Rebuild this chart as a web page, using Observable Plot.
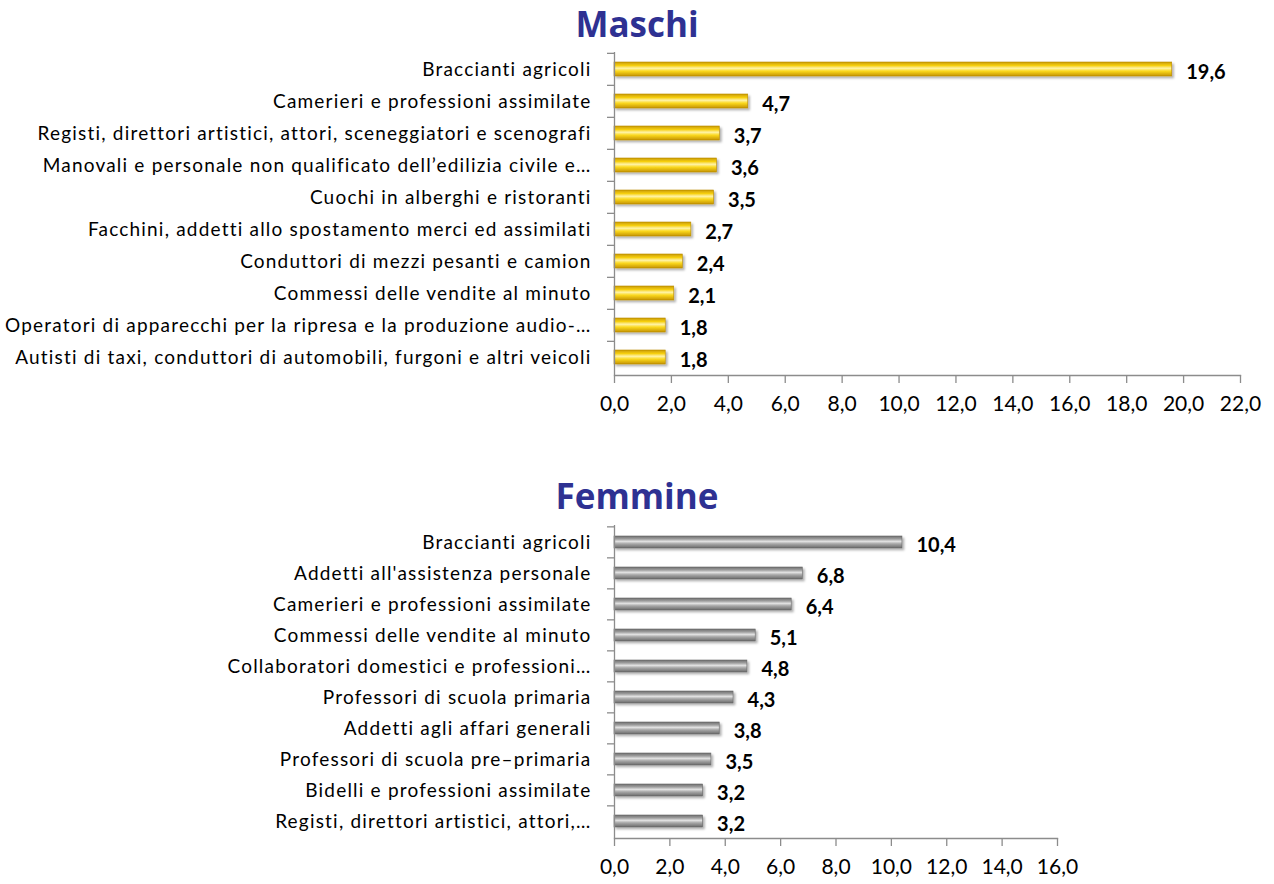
<!DOCTYPE html>
<html>
<head>
<meta charset="utf-8">
<script src="https://cdn.jsdelivr.net/npm/d3@7"></script>
<script src="https://cdn.jsdelivr.net/npm/@observablehq/plot@0.6"></script>
<style>
  body { margin: 0; background: #fff; }
  #wrap { position: relative; width: 1274px; height: 884px; overflow: hidden; font-family: Lato, sans-serif; }
  .ttl { position: absolute; left: 0; width: 1274px; text-align: center; font-family: "Open Sans", sans-serif; font-weight: 700; font-size: 35px; color: #2e3192; line-height: 1; }
  .chart { position: absolute; left: 0; }
</style>
</head>
<body>
<div id="wrap">
  <div class="ttl" id="t1" style="top:6px;">Maschi</div>
  <div class="chart" id="c1" style="top:45px;"></div>
  <div class="ttl" id="t2" style="top:478px;">Femmine</div>
  <div class="chart" id="c2" style="top:515px;"></div>
</div>
<script>
const maschiNames = [
  "Braccianti agricoli",
  "Camerieri e professioni assimilate",
  "Registi, direttori artistici, attori, sceneggiatori e scenografi",
  "Manovali e personale non qualificato dell’edilizia civile e…",
  "Cuochi in alberghi e ristoranti",
  "Facchini, addetti allo spostamento merci ed assimilati",
  "Conduttori di mezzi pesanti e camion",
  "Commessi delle vendite al minuto",
  "Operatori di apparecchi per la ripresa e la produzione audio-…",
  "Autisti di taxi, conduttori di automobili, furgoni e altri veicoli"
];
const maschiValues = [19.6, 4.7, 3.7, 3.6, 3.5, 2.7, 2.4, 2.1, 1.8, 1.8];

const femmineNames = [
  "Braccianti agricoli",
  "Addetti all'assistenza personale",
  "Camerieri e professioni assimilate",
  "Commessi delle vendite al minuto",
  "Collaboratori domestici e professioni…",
  "Professori di scuola primaria",
  "Addetti agli affari generali",
  "Professori di scuola pre–primaria",
  "Bidelli e professioni assimilate",
  "Registi, direttori artistici, attori,…"
];
const femmineValues = [10.4, 6.8, 6.4, 5.1, 4.8, 4.3, 3.8, 3.5, 3.2, 3.2];

const maschiTicks = d3.range(0, 22.01, 2);
const femmineTicks = d3.range(0, 16.01, 2);

const fmt = v => v.toFixed(1).replace(".", ",");

function defsMark(id, stops) {
  return () => {
    const defs = d3.create("svg:defs");
    const g = defs.append("linearGradient").attr("id", id)
      .attr("x1", 0).attr("y1", 0).attr("x2", 0).attr("y2", 1);
    stops.forEach(([o, c]) => g.append("stop").attr("offset", o).attr("stop-color", c));
    const f = defs.append("filter").attr("id", id + "sh")
      .attr("x", "-5%").attr("y", "-50%").attr("width", "115%").attr("height", "220%");
    f.append("feDropShadow").attr("dx", 2).attr("dy", 2).attr("stdDeviation", 1.2)
      .attr("flood-color", "#000").attr("flood-opacity", 0.3);
    return defs.node();
  };
}

function makeChart({names, values, ticks, height, marginTop, marginBottom, marginRight, padIn, gradId, stops, stroke}) {
  const data = names.map((n, i) => ({name: n, value: values[i]}));
  const plotH = height - marginTop - marginBottom;
  const step = plotH / names.length;
  const svg = Plot.plot({
    width: 1274,
    height,
    marginLeft: 614,
    marginRight,
    marginTop,
    marginBottom,
    style: {fontFamily: "Lato, sans-serif", color: "#000", background: "#fff"},
    x: {domain: [ticks[0], ticks[ticks.length - 1]], ticks, tickFormat: fmt},
    y: {domain: names, paddingInner: padIn, paddingOuter: padIn / 2},
    marks: [
      defsMark(gradId, stops),
      Plot.barX(data, {y: "name", x: "value", fill: `url(#${gradId})`, stroke, strokeWidth: 0.6}),
      Plot.text(data, {y: "name", x: "value", text: d => fmt(d.value), textAnchor: "start",
        dx: 14, dy: 3, fontWeight: "bold", fontSize: 20, fill: "#000"}),
      Plot.ruleX([0], {stroke: "#8c8c8c", strokeWidth: 1.3}),
      Plot.frame({anchor: "bottom", stroke: "#8c8c8c", strokeWidth: 1.3}),
      Plot.axisX({ticks, tickFormat: fmt, tickSize: 8, tickPadding: 13, fontSize: 21, stroke: "#8c8c8c", strokeWidth: 1.3, fill: "#000", label: null}),
      Plot.axisY({tickSize: 0, tickPadding: 23, fontSize: 19, fill: "#000", label: null}),
      Plot.axisY({tickSize: 7, tickFormat: () => "", dy: -step / 2, stroke: "#8c8c8c", strokeWidth: 1.3, label: null})
    ]
  });
  d3.select(svg).selectAll('g[aria-label="bar"] rect').attr("filter", `url(#${gradId}sh)`);
  d3.select(svg).selectAll('g[aria-label="y-axis tick label"]').style("letter-spacing", "1.2px");
  return svg;
}

document.getElementById("c1").appendChild(makeChart({
  names: maschiNames, values: maschiValues, ticks: maschiTicks,
  height: 390, marginTop: 7, marginBottom: 60, marginRight: 34, padIn: 0.56,
  gradId: "gY",
  stops: [[0, "#c99a00"], [0.25, "#f6cf10"], [0.45, "#fff3a8"], [0.65, "#fbd91c"], [1, "#c59300"]],
  stroke: "#b98c00"
}));

document.getElementById("c2").appendChild(makeChart({
  names: femmineNames, values: femmineValues, ticks: femmineTicks,
  height: 369, marginTop: 10, marginBottom: 46, marginRight: 217, padIn: 0.62,
  gradId: "gG",
  stops: [[0, "#6e6e6e"], [0.25, "#9f9f9f"], [0.45, "#e2e2e2"], [0.65, "#a8a8a8"], [1, "#6a6a6a"]],
  stroke: "#666"
}));
</script>
</body>
</html>
